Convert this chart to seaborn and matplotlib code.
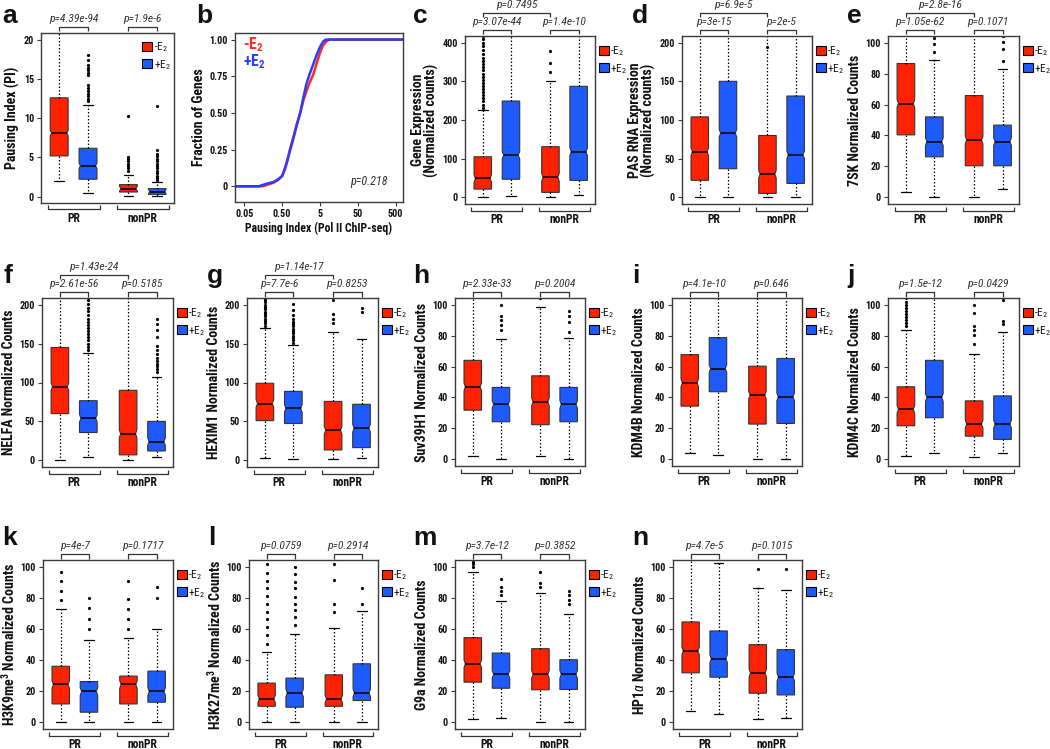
import numpy as np
import pandas as pd
import matplotlib
matplotlib.use("Agg")
import matplotlib.pyplot as plt
import matplotlib.path as mpath
import matplotlib.transforms as mtransforms
from matplotlib import font_manager as fm
from matplotlib.patches import Patch
from matplotlib.ticker import NullLocator
import seaborn as sns

# ---------------------------------------------------------------- data
GROUPS = ["PR", "nonPR"]
CONDITIONS = ["-E$_2$", "+E$_2$"]

# each box: [whisker_low, q1, median, q3, whisker_high]; order: PR -E2, PR +E2, nonPR -E2, nonPR +E2
A_STATS = [[2.0, 5.2, 8.1, 12.6, 24.0], [0.5, 2.23, 3.94, 6.17, 11.7],
           [0.09, 0.6, 1.03, 1.54, 2.74], [0.05, 0.3, 0.64, 1.03, 1.88]]
A_FLIERS = [[], [12.2, 12.5, 12.8, 13.1, 13.5, 13.9, 14.2, 15.5, 15.8, 16.1, 16.4, 16.8, 17.4, 18.0],
            [3.3, 3.6, 3.9, 4.2, 4.5, 4.8, 5.1, 10.3],
            [2.1, 2.4, 2.7, 3.0, 3.3, 3.6, 3.9, 4.2, 4.5, 4.8, 5.2, 5.5, 5.9, 11.5]]
A_P = ["p=4.39e-94", "p=1.9e-6"]

C_STATS = [[2, 21.5, 49, 105, 225], [4, 47, 109, 249, 500],
           [2, 13, 52, 131, 300], [5, 44, 118, 287, 500]]
C_FLIERS = [[232, 240, 248, 256, 264, 272, 280, 288, 296, 304, 312, 320, 328, 336, 344,
             352, 360, 370, 380, 390, 400, 408, 416], [], [324, 347, 378], []]
C_P = ["p=3.07e-44", "p=1.4e-10"]
C_PTOP = "p=0.7495"

D_STATS = [[0, 22, 59, 104, 250], [0, 37, 83, 150, 250],
           [0, 5, 30, 80, 250], [1, 18, 55, 131, 250]]
D_FLIERS = [[], [], [194], []]
D_P = ["p=3e-15", "p=2e-5"]
D_PTOP = "p=6.9e-5"

E_STATS = [[3.2, 40.4, 60.6, 86.5, 130], [0, 26.2, 36, 52, 88.6],
           [0.4, 20.4, 37, 65.8, 130], [5.2, 20.4, 36, 46.7, 83.2]]
E_FLIERS = [[], [94, 99.4, 103], [], [88.2, 96, 100.4, 104]]
E_P = ["p=1.05e-62", "p=0.1071"]
E_PTOP = "p=2.8e-16"

F_STATS = [[0, 60, 94.6, 145, 260], [4, 35.7, 54, 76.6, 137.6],
           [0, 7, 34, 90, 260], [4, 12, 24, 50, 107.5]]
F_FLIERS = [[], [142, 146, 150, 154, 158, 162, 166, 170, 174, 178, 182, 187, 192, 196, 201, 206],
            [], [114, 117, 121, 124, 128, 132, 137, 142, 147.5, 158, 167, 174.6, 182]]
F_P = ["p=2.61e-56", "p=0.5185"]
F_PTOP = "p=1.43e-24"

G_STATS = [[3.4, 51, 73, 99, 170], [1.3, 47.3, 66.7, 88.6, 148.4],
           [2, 13.3, 38.7, 75.7, 164.7], [2.6, 16.3, 41.3, 72, 156]]
G_FLIERS = [[173, 176, 179, 182, 185, 188, 191, 194, 197, 200, 203, 206, 209],
            [151, 154, 157, 160, 163, 166, 169, 172, 175, 178, 182, 187, 193, 201],
            [176, 182, 187.5, 205.6], [191, 196]]
G_P = ["p=7.7e-6", "p=0.8253"]
G_PTOP = "p=1.14e-17"

H_STATS = [[2.4, 31.8, 46.9, 64, 130], [0, 24.3, 35.5, 46.5, 78],
           [2.4, 22.4, 37.2, 54, 98.5], [0, 24.3, 35.5, 46.5, 78.5]]
H_FLIERS = [[], [83.4, 86.7, 90, 92.5, 100], [104], [82.4, 88.8, 92.5, 95.7]]
H_P = ["p=2.33e-33", "p=0.2004"]

I_STATS = [[3.9, 34.4, 49.5, 67.7, 130], [2.8, 43.7, 58.7, 78.7, 130],
           [0, 22.8, 41.5, 60.2, 130], [0, 23.2, 40.4, 65.2, 130]]
I_FLIERS = [[], [], [], []]
I_P = ["p=4.1e-10", "p=0.646"]

J_STATS = [[2.4, 21.7, 32.3, 46.9, 83.4], [3.9, 26.9, 40, 64, 130],
           [1.3, 15, 22.8, 37.8, 68], [3.9, 12.9, 22.8, 41, 82.4]]
J_FLIERS = [[86, 88, 90, 92, 94, 96, 98, 100, 102, 104], [],
            [74.4, 80.4, 83.4, 86.5, 94.6, 99.6], [87.3, 89.5, 103]]
J_P = ["p=1.5e-12", "p=0.0429"]

K_STATS = [[0, 11.8, 24.3, 36, 72.5], [0, 6.5, 19.8, 26.2, 53],
           [0, 11.8, 24.3, 29.7, 54.2], [0, 12.9, 19.8, 32.9, 60.2]]
K_FLIERS = [[78.5, 84.5, 90.8, 96.8], [59.8, 66.7, 73.5, 80],
            [60.2, 66.2, 72.5, 79, 91], [80, 86.7]]
K_P = ["p=4e-7", "p=0.1717"]

L_STATS = [[0.4, 10.3, 15, 25.2, 45.2], [0.4, 9.7, 18.9, 28.4, 57],
           [0.4, 10.3, 15, 30.5, 60.9], [0, 14, 18.9, 37.6, 71.5]]
L_FLIERS = [[50.5, 56, 61.3, 66.7, 71, 76.3, 81, 86, 90.8, 96, 101.7],
            [62.5, 67.7, 72, 76.3, 80.6, 86, 90.3, 95.3, 100],
            [71, 76.3, 91.4, 101.5], [76.3, 86]]
L_P = ["p=0.0759", "p=0.2914"]

M_STATS = [[2.2, 25.8, 37.6, 54.4, 96.8], [2.6, 21.9, 30.8, 44.5, 78],
           [0.4, 20.9, 30.8, 47.3, 83.2], [0.4, 21.1, 30.8, 40.2, 69.9]]
M_FLIERS = [[100, 101.7, 103.2], [81.7, 84.5, 87.1, 92.3],
            [87.1, 89.7, 96.8], [76.3, 78.9, 81.7, 84.3]]
M_P = ["p=3.7e-12", "p=0.3852"]

N_STATS = [[7.5, 31.8, 45.8, 64.5, 130], [5.4, 29, 40.9, 58.7, 102.6],
           [2.2, 18.7, 31.6, 49.9, 86], [2.6, 17.6, 29, 46.7, 85]]
N_FLIERS = [[], [], [98.3], [98.3]]
N_P = ["p=4.7e-5", "p=0.1015"]

# panel b: cumulative distribution of pausing index
ECDF_X_RED = [0.028, 0.15, 0.2, 0.3, 0.4, 0.5, 0.6, 0.7, 0.8, 1.0, 1.2, 1.5, 1.8, 2.2,
              2.7, 3.3, 4.0, 5.0, 6.0, 7.5, 9.0, 800]
ECDF_F_RED = [0, 0, 0.01, 0.025, 0.045, 0.07, 0.13, 0.19, 0.25, 0.34, 0.42, 0.5, 0.58, 0.65,
              0.71, 0.76, 0.83, 0.91, 0.96, 0.99, 1.0, 1.0]
ECDF_X_BLUE = [0.028, 0.12, 0.18, 0.3, 0.4, 0.5, 0.6, 0.7, 0.8, 1.0, 1.2, 1.5, 1.8, 2.2,
               2.7, 3.3, 4.0, 5.0, 6.0, 7.0, 800]
ECDF_F_BLUE = [0, 0, 0.015, 0.03, 0.05, 0.07, 0.12, 0.18, 0.24, 0.33, 0.41, 0.5, 0.6, 0.7,
               0.77, 0.83, 0.89, 0.95, 0.985, 1.0, 1.0]
B_P = "p=0.218"
B_XTICKS = [0.05, 0.5, 5, 50, 500]
B_XTICKLABELS = ["0.05", "0.50", "5", "50", "500"]
B_YTICKS = [0, 0.25, 0.5, 0.75, 1.0]
B_YTICKLABELS = ["0", "0.25", "0.50", "0.75", "1.00"]

# ---------------------------------------------------------------- fonts / style
sns.set_theme(style="ticks")


def pick_condensed():
    entries = fm.fontManager.ttflist
    names = {f.name for f in entries}
    for cand in ["Liberation Sans Narrow", "Arial Narrow", "Roboto Condensed",
                 "Open Sans Condensed", "Noto Sans Condensed", "DejaVu Sans Condensed"]:
        if cand in names:
            return cand, "normal"
    for fam in ["Roboto", "Noto Sans", "Open Sans", "DejaVu Sans", "Liberation Sans"]:
        for f in entries:
            if f.name == fam and "condensed" in str(f.stretch):
                return fam, "condensed"
    return "Liberation Sans", "normal"


FAM, STRETCH = pick_condensed()
plt.rcParams["font.family"] = [FAM, "Liberation Sans", "DejaVu Sans"]
plt.rcParams["font.stretch"] = STRETCH
plt.rcParams.update({
    "mathtext.fontset": "custom",
    "mathtext.rm": FAM,
    "mathtext.it": FAM + ":italic",
    "mathtext.bf": FAM + ":bold",
    "axes.edgecolor": "#3a3a3a",
    "axes.linewidth": 1.0,
    "xtick.color": "#3a3a3a",
    "ytick.color": "#3a3a3a",
    "xtick.labelcolor": "#111111",
    "ytick.labelcolor": "#111111",
    "axes.labelcolor": "#111111",
    "text.color": "#111111",
    "axes.facecolor": "white",
    "figure.facecolor": "white",
})

RED = "#FF2200"
BLUE = "#1E5BFF"
POS = [1, 2, 3.4, 4.4]
BW = 0.62
FIG_W, FIG_H = 1050, 749

fig = plt.figure(figsize=(10.5, 7.49), dpi=100)
_renderer = fig.canvas.get_renderer()


def fit_size(s, target_px, **kw):
    t = fig.text(0, 0, s, fontsize=10, **kw)
    w = t.get_window_extent(renderer=_renderer).width
    t.remove()
    return 10.0 * target_px / w


FS_YLABEL = min(10.0, fit_size("7SK Normalized Counts", 146, fontweight="bold"))
FS_TICK = min(9.0, fit_size("100", 15.5, fontweight="bold"))
FS_P = min(9.0, fit_size("p=1.05e-62", 49, fontstyle="italic"))
FS_GROUP = min(9.5, fit_size("nonPR", 30, fontweight="bold"))
FS_XLAB_B = min(10.0, fit_size("Pausing Index (Pol II ChIP-seq)", 148, fontweight="bold"))
FS_LEG = min(9.5, fit_size("-E", 8.5, fontweight="normal"))


def add_ax(rect):
    l, t, r, b = rect
    ax = fig.add_axes([l / FIG_W, 1 - b / FIG_H, (r - l) / FIG_W, (b - t) / FIG_H])
    return ax, (r - l), (b - t)


def style_y(ax, yticks, ylim, ylabel, ticklabels=None):
    ax.set_ylim(*ylim)
    labs = ticklabels if ticklabels is not None else [str(v) for v in yticks]
    ax.set_yticks(yticks, labels=labs, fontweight="bold", fontsize=FS_TICK)
    ax.tick_params(axis="y", direction="out", length=3, width=0.8, pad=2)
    ax.set_ylabel(ylabel, fontsize=FS_YLABEL, fontweight="bold", labelpad=2.5, linespacing=0.95)
    for s in ax.spines.values():
        s.set_visible(True)


def bracket(ax, trans, x0, x1, y_line, y_tick, color="#333333"):
    ax.plot([x0, x0, x1, x1], [y_tick, y_line, y_line, y_tick], transform=trans,
            clip_on=False, color=color, lw=0.9, solid_capstyle="butt")


def box_panel(rect, stats, fliers, notch, ylim, yticks, ylabel, pvals,
              ptop=None, legend_inside=False):
    ax, w, h = add_ax(rect)
    bstats = []
    for s, f in zip(stats, fliers):
        lo, q1, med, q3, hi = s
        bstats.append(dict(whislo=lo, q1=q1, med=med, q3=q3, whishi=hi,
                           fliers=np.array(f, dtype=float),
                           cilo=med - notch, cihi=med + notch))
    art = ax.bxp(bstats, positions=POS, widths=BW, patch_artist=True,
                 shownotches=True, showfliers=True, capwidths=0.34,
                 boxprops=dict(edgecolor="#333333", linewidth=0.8),
                 whiskerprops=dict(color="black", linewidth=0.9, linestyle=(0, (1.2, 1.6))),
                 capprops=dict(color="black", linewidth=0.9),
                 medianprops=dict(color="black", linewidth=1.1),
                 flierprops=dict(marker="o", markersize=2.3, markerfacecolor="black",
                                 markeredgecolor="none", linestyle="none"))
    half = BW / 2
    for i, (p, box, med) in enumerate(zip(POS, art["boxes"], art["medians"])):
        box.set_facecolor(RED if i % 2 == 0 else BLUE)
        path = box.get_path()
        v = np.array(path.vertices, dtype=float)
        inner = np.abs(v[:, 0] - p) < half * 0.9
        v[inner, 0] = p + np.sign(v[inner, 0] - p) * half * 0.84
        box.set_path(mpath.Path(v, path.codes))
        med.set_xdata([p - half * 0.84, p + half * 0.84])
    ax.set_xlim(0.37, 4.98)
    ax.set_xticks([])
    style_y(ax, yticks, ylim, ylabel)

    trans = mtransforms.blended_transform_factory(ax.transData, ax.transAxes)
    for (x0, x1), lab in zip([(0.6, 2.4), (3.0, 4.8)], GROUPS):
        bracket(ax, trans, x0, x1, -6.5 / h, -2.5 / h)
        ax.text((x0 + x1) / 2, -15.5 / h, lab, transform=trans, ha="center", va="center",
                fontsize=FS_GROUP, fontweight="bold")
    for (x0, x1), pv in zip([(POS[0], POS[1]), (POS[2], POS[3])], pvals):
        bracket(ax, trans, x0, x1, 1 + 6 / h, 1 + 1.5 / h)
        ax.text((x0 + x1) / 2, 1 + 14 / h, pv, transform=trans, ha="center", va="center",
                fontsize=FS_P, fontstyle="italic", color="#333333")
    if ptop is not None:
        bracket(ax, trans, POS[0], POS[2], 1 + 23 / h, 1 + 19 / h)
        ax.text((POS[0] + POS[2]) / 2, 1 + 31 / h, ptop, transform=trans, ha="center",
                va="center", fontsize=FS_P, fontstyle="italic", color="#333333")
    handles = [Patch(facecolor=RED, edgecolor="black", linewidth=0.8),
               Patch(facecolor=BLUE, edgecolor="black", linewidth=0.8)]
    common = dict(frameon=False, fontsize=FS_LEG, handlelength=0.85, handleheight=0.85,
                  handletextpad=0.15, labelspacing=0.35, borderpad=0, borderaxespad=0)
    if legend_inside:
        ax.legend(handles, CONDITIONS, loc="upper right",
                  bbox_to_anchor=(1 - 3 / w, 1 - 7 / h), **common)
    else:
        ax.legend(handles, CONDITIONS, loc="upper left",
                  bbox_to_anchor=(1 + 4 / w, 1 - 8 / h), **common)
    return ax


def panel_letter(letter, x, y):
    fig.text(x / FIG_W, 1 - y / FIG_H, letter, fontsize=19, fontweight="bold",
             family=["Liberation Sans", "DejaVu Sans"], stretch="normal", va="top", ha="left")


Y100 = (-4.3, 104.3)
T100 = [0, 20, 40, 60, 80, 100]
Y200 = (-8.6, 208.6)
T200 = [0, 50, 100, 150, 200]

# ---------------------------------------------------------------- row 1
box_panel((41, 33, 174, 203), A_STATS, A_FLIERS, 0.35, (-0.8, 20.86),
          [0, 5, 10, 15, 20], "Pausing Index (PI)", A_P, legend_inside=True)

axb, wb, hb = add_ax((235, 33, 403, 202))
dfb = pd.DataFrame({
    "PI": ECDF_X_RED + ECDF_X_BLUE,
    "Fraction": ECDF_F_RED + ECDF_F_BLUE,
    "cond": ["-E2"] * len(ECDF_X_RED) + ["+E2"] * len(ECDF_X_BLUE),
})
sns.lineplot(data=dfb, x="PI", y="Fraction", hue="cond",
             palette={"-E2": "#FF2A20", "+E2": "#2B3BFF"}, estimator=None, sort=False,
             linewidth=1.8, legend=False, ax=axb)
axb.set_xscale("log")
axb.set_xlim(0.0284, 780)
axb.set_xticks(B_XTICKS, labels=B_XTICKLABELS, fontweight="bold", fontsize=FS_TICK)
axb.xaxis.set_minor_locator(NullLocator())
axb.tick_params(axis="x", direction="out", length=3, width=0.8, pad=2)
axb.set_xlabel("Pausing Index (Pol II ChIP-seq)", fontsize=FS_XLAB_B, fontweight="bold",
               labelpad=2)
style_y(axb, B_YTICKS, (-0.107, 1.045), "Fraction of Genes", ticklabels=B_YTICKLABELS)
axb.text(0.05, 0.93, "-E$_\\mathbf{2}$", transform=axb.transAxes, color="#FF2A20",
         fontsize=FS_YLABEL * 1.12, fontweight="bold", va="center")
axb.text(0.05, 0.83, "+E$_\\mathbf{2}$", transform=axb.transAxes, color="#2B3BFF",
         fontsize=FS_YLABEL * 1.12, fontweight="bold", va="center")
axb.text(0.8, 0.12, B_P, transform=axb.transAxes, fontsize=FS_P * 1.05, fontstyle="italic",
         color="#333333", ha="center", va="center")

box_panel((465, 36, 595, 204), C_STATS, C_FLIERS, 10, (-17, 417),
          [0, 100, 200, 300, 400], "Gene Expression\n(Normalized counts)", C_P, C_PTOP)
box_panel((682, 36, 812, 204), D_STATS, D_FLIERS, 5, Y200, T200,
          "PAS RNA Expression\n(Normalized counts)", D_P, D_PTOP)
box_panel((888, 36, 1019, 204), E_STATS, E_FLIERS, 2.5, Y100, T100,
          "7SK Normalized Counts", E_P, E_PTOP)

# ---------------------------------------------------------------- row 2
box_panel((42, 298, 173, 467), F_STATS, F_FLIERS, 5, Y200, T200,
          "NELFA Normalized Counts", F_P, F_PTOP)
box_panel((247, 298, 378, 467), G_STATS, G_FLIERS, 5, Y200, T200,
          "HEXIM1 Normalized Counts", G_P, G_PTOP)
box_panel((455, 298, 585, 466), H_STATS, H_FLIERS, 2.5, Y100, T100,
          "Suv39H1 Normalized Counts", H_P)
box_panel((672, 298, 802, 466), I_STATS, I_FLIERS, 2.5, Y100, T100,
          "KDM4B Normalized Counts", I_P)
box_panel((888, 298, 1019, 466), J_STATS, J_FLIERS, 2.5, Y100, T100,
          "KDM4C Normalized Counts", J_P)

# ---------------------------------------------------------------- row 3
box_panel((43, 560, 173, 729), K_STATS, K_FLIERS, 2.5, Y100, T100,
          "H3K9me$^\\mathbf{3}$ Normalized Counts", K_P)
box_panel((249, 560, 378, 729), L_STATS, L_FLIERS, 2.5, Y100, T100,
          "H3K27me$^\\mathbf{3}$ Normalized Counts", L_P)
box_panel((455, 560, 585, 729), M_STATS, M_FLIERS, 2.5, Y100, T100,
          "G9a Normalized Counts", M_P)
box_panel((673, 560, 802, 729), N_STATS, N_FLIERS, 2.5, Y100, T100,
          "HP1$\\alpha$ Normalized Counts", N_P)

# ---------------------------------------------------------------- panel letters
for letter, x, y in [("a", 2, 4), ("b", 196, 4), ("c", 413, 4), ("d", 632, 4), ("e", 847, 4),
                     ("f", 3, 264), ("g", 207, 264), ("h", 413, 264), ("i", 632, 264),
                     ("j", 847, 264), ("k", 2, 526), ("l", 208, 526), ("m", 413, 526),
                     ("n", 632, 526)]:
    panel_letter(letter, x, y)

fig.savefig("out.png", dpi=100)
